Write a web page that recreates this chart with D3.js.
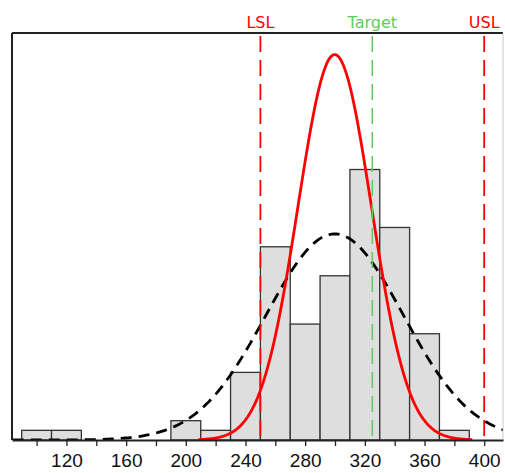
<!DOCTYPE html>
<html>
<head>
<meta charset="utf-8">
<script src="https://d3js.org/d3.v7.min.js"></script>
<style>
  body { margin: 0; background: #fff; }
  svg { display: block; }
</style>
</head>
<body>
<div id="chart"></div>
<script>
// histogram bins (lower edge, width 20) and counts
var binStarts = [90, 110, 130, 150, 170, 190, 210, 230, 250, 270, 290, 310, 330, 350, 370];
var binCounts = [1, 1, 0, 0, 0, 2, 1, 7, 20, 12, 17, 28, 22, 11, 1];
var binWidth = 20;

// fitted normal curves (mean, sigma) and the range each is drawn over
var fitMean = 299.8;
var sigmaWithin = 24.6;
var sigmaOverall = 46;
var withinRange = [208.5, 392];
var overallRange = [84, 413];

// spec limits
var specNames = ["LSL", "Target", "USL"];
var specValues = [250, 325, 400];
var specColors = ["#ff0000", "#5ccc5c", "#ff0000"];

// axis ticks
var tickValues = d3.range(100, 401, 20);
var tickLabels = [120, 160, 200, 240, 280, 320, 360, 400];

var svgWidth = 505;
var svgHeight = 473;
var margin = { top: 33, right: 2, bottom: 33, left: 12 };
var chartWidth = svgWidth - margin.left - margin.right;
var chartHeight = svgHeight - margin.top - margin.bottom;

var svg = d3.select("#chart").append("svg")
    .attr("width", svgWidth)
    .attr("height", svgHeight);

var chart = svg.append("g").attr("transform", `translate(${margin.left},${margin.top})`);

var xScale = d3.scaleLinear().domain([83.5, 412.6]).range([0, chartWidth]);
var yScale = d3.scaleLinear().domain([0, 42.13]).range([chartHeight, 0]);

var total = d3.sum(binCounts);

svg.append("defs").append("clipPath").attr("id", "plotclip")
    .append("rect").attr("width", chartWidth).attr("height", chartHeight);

var plot = chart.append("g").attr("clip-path", "url(#plotclip)");

// bars
var bars = binStarts.map(function(b, i) { return { x0: b, n: binCounts[i] }; })
    .filter(function(d) { return d.n > 0; });

plot.selectAll("rect.bar")
    .data(bars)
    .enter()
    .append("rect")
    .attr("class", "bar")
    .attr("x", function(d) { return xScale(d.x0); })
    .attr("y", function(d) { return yScale(d.n); })
    .attr("width", function(d) { return xScale(d.x0 + binWidth) - xScale(d.x0); })
    .attr("height", function(d) { return yScale(0) - yScale(d.n); })
    .attr("fill", "#dedede")
    .attr("stroke", "#333")
    .attr("stroke-width", 1.3);

// normal curve scaled to counts per bin
function curvePoints(sigma, range) {
    var pts = [];
    var steps = 200;
    for (var i = 0; i <= steps; i++) {
        var v = range[0] + (range[1] - range[0]) * i / steps;
        var z = (v - fitMean) / sigma;
        var y = total * binWidth * Math.exp(-0.5 * z * z) / (sigma * Math.sqrt(2 * Math.PI));
        pts.push([v, y]);
    }
    return pts;
}

var line = d3.line()
    .x(function(d) { return xScale(d[0]); })
    .y(function(d) { return yScale(d[1]); });

plot.append("path")
    .datum(curvePoints(sigmaOverall, overallRange))
    .attr("d", line)
    .attr("fill", "none")
    .attr("stroke", "#000")
    .attr("stroke-width", 2.8)
    .attr("stroke-dasharray", "11,7");

plot.append("path")
    .datum(curvePoints(sigmaWithin, withinRange))
    .attr("d", line)
    .attr("fill", "none")
    .attr("stroke", "#ff0000")
    .attr("stroke-width", 2.8);

// spec lines
var specs = specNames.map(function(s, i) { return { name: s, v: specValues[i], c: specColors[i] }; });

chart.selectAll("line.spec")
    .data(specs)
    .enter()
    .append("line")
    .attr("class", "spec")
    .attr("x1", function(d) { return xScale(d.v); })
    .attr("x2", function(d) { return xScale(d.v); })
    .attr("y1", 3)
    .attr("y2", chartHeight)
    .attr("stroke", function(d) { return d.c; })
    .attr("stroke-width", function(d) { return d.name == "Target" ? 1.5 : 1.8; })
    .attr("stroke-dasharray", "16,8");

chart.selectAll("text.spec")
    .data(specs)
    .enter()
    .append("text")
    .attr("class", "spec")
    .attr("x", function(d) { return xScale(d.v); })
    .attr("y", -5)
    .attr("text-anchor", "middle")
    .style("font-family", "'DejaVu Sans', sans-serif")
    .style("font-size", "16px")
    .attr("fill", function(d) { return d.c; })
    .text(function(d) { return d.name; });

// frame: dark top and left, light right
chart.append("line").attr("x1", 0).attr("x2", chartWidth).attr("y1", 0).attr("y2", 0)
    .attr("stroke", "#222").attr("stroke-width", 2);
chart.append("line").attr("x1", 0).attr("x2", 0).attr("y1", 0).attr("y2", chartHeight)
    .attr("stroke", "#222").attr("stroke-width", 2);
chart.append("line").attr("x1", chartWidth).attr("x2", chartWidth).attr("y1", 0).attr("y2", chartHeight)
    .attr("stroke", "#c8c8c8").attr("stroke-width", 1);

// x axis
var bottomAxis = d3.axisBottom(xScale)
    .tickValues(tickValues)
    .tickSize(6)
    .tickSizeOuter(0)
    .tickFormat(function(d) { return tickLabels.indexOf(d) >= 0 ? d : ""; });

var xAxis = chart.append("g")
    .attr("transform", `translate(0, ${chartHeight})`)
    .call(bottomAxis);

xAxis.select(".domain").attr("stroke", "#222").attr("stroke-width", 2);
xAxis.selectAll(".tick line").attr("stroke", "#222").attr("stroke-width", 1.3);
xAxis.selectAll(".tick text")
    .attr("y", 10)
    .attr("dy", "0.9em")
    .attr("fill", "#111")
    .style("font-family", "'Liberation Sans', Arial, sans-serif")
    .style("font-size", "19px");
</script>
</body>
</html>
